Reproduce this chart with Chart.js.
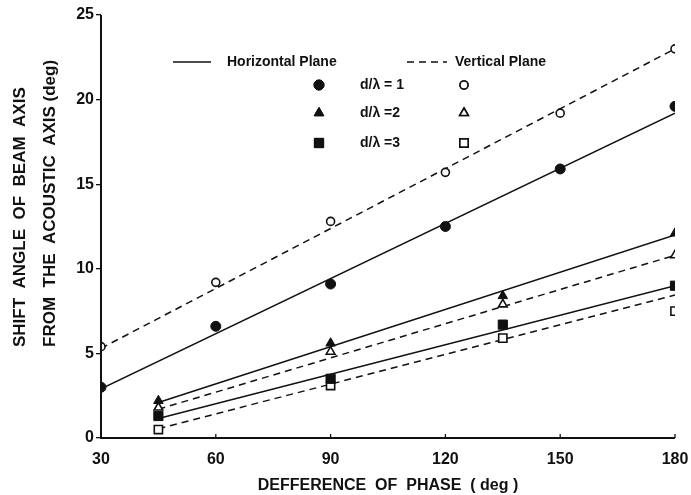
<!DOCTYPE html>
<html>
<head>
<meta charset="utf-8">
<script src="https://cdn.jsdelivr.net/npm/chart.js@4/dist/chart.umd.min.js"></script>
<style>
html,body{margin:0;padding:0;background:#fff;}
#wrap{width:691px;height:495px;position:relative;}
</style>
</head>
<body>
<div id="wrap"><canvas id="c" width="691" height="495"></canvas></div>
<script>
// ---- data ----
const phaseAll = [30, 60, 90, 120, 150, 180];
const phaseSub = [45, 90, 135, 180];
const horiz1 = [3.0, 6.6, 9.1, 12.5, 15.9, 19.6];
const vert1  = [5.4, 9.2, 12.8, 15.7, 19.2, 23.0];
const horiz2 = [2.2, 5.6, 8.4, 12.1];
const vert2  = [1.8, 5.1, 7.9, 10.8];
const horiz3 = [1.3, 3.5, 6.7, 9.0];
const vert3  = [0.5, 3.1, 5.9, 7.5];
// fitted straight lines (end points)
const fitX1 = [30, 180];
const fitX2 = [45, 180];
const horiz1Fit = [2.9, 19.2];
const vert1Fit  = [5.3, 23.0];
const horiz2Fit = [2.1, 12.0];
const vert2Fit  = [1.7, 10.8];
const horiz3Fit = [1.15, 9.0];
const vert3Fit  = [0.55, 8.45];
const xTicks = [30, 60, 90, 120, 150, 180];
const yTicks = [0, 5, 10, 15, 20, 25];
const yTitle = ['SHIFT  ANGLE  OF  BEAM  AXIS', 'FROM  THE  ACOUSTIC  AXIS (deg)'];
const xTitle = 'DEFFERENCE  OF  PHASE  ( deg )';

const pts = (xs, ys) => xs.map((x, i) => ({x: x, y: ys[i]}));
const INK = '#111';

function markerSet(label, xs, ys, style, filled, radius) {
  return {
    label: label, data: pts(xs, ys), showLine: false,
    pointStyle: style, pointRadius: radius, pointHoverRadius: radius,
    pointBackgroundColor: filled ? INK : '#fff',
    pointBorderColor: INK, pointBorderWidth: filled ? 1 : 1.6
  };
}
function lineSet(label, xs, ys, dashed) {
  return {
    label: label, data: pts(xs, ys), showLine: true, pointRadius: 0,
    borderColor: INK, borderWidth: 1.5, borderDash: dashed ? [7, 5] : [],
    fill: false, order: 2
  };
}

const datasets = [
  lineSet('H1 fit', fitX1, horiz1Fit, false),
  lineSet('V1 fit', fitX1, vert1Fit, true),
  lineSet('H2 fit', fitX2, horiz2Fit, false),
  lineSet('V2 fit', fitX2, vert2Fit, true),
  lineSet('H3 fit', fitX2, horiz3Fit, false),
  lineSet('V3 fit', fitX2, vert3Fit, true),
  markerSet('Horizontal d/λ=1', phaseAll, horiz1, 'circle', true, 5),
  markerSet('Vertical d/λ=1', phaseAll, vert1, 'circle', false, 4),
  markerSet('Horizontal d/λ=2', phaseSub, horiz2, 'triangle', true, 5.5),
  markerSet('Vertical d/λ=2', phaseSub, vert2, 'triangle', false, 5),
  markerSet('Horizontal d/λ=3', phaseSub, horiz3, 'rect', true, 6.5),
  markerSet('Vertical d/λ=3', phaseSub, vert3, 'rect', false, 5.8)
];

const overlay = {
  id: 'overlay',
  afterDraw(chart) {
    const ctx = chart.ctx;
    const xs = chart.scales.x, ys = chart.scales.y;
    ctx.save();
    ctx.strokeStyle = INK; ctx.fillStyle = INK;
    // axes
    ctx.lineWidth = 2;
    ctx.beginPath();
    ctx.moveTo(xs.left, ys.top);
    ctx.lineTo(xs.left, ys.bottom);
    ctx.lineTo(xs.right, ys.bottom);
    ctx.stroke();
    // inward x ticks
    ctx.lineWidth = 1.3;
    xTicks.forEach(v => {
      const px = xs.getPixelForValue(v);
      ctx.beginPath(); ctx.moveTo(px, ys.bottom); ctx.lineTo(px, ys.bottom - 4); ctx.stroke();
    });
    // y axis title (two lines, left aligned)
    ctx.font = 'bold 17px "Liberation Sans", Arial, sans-serif';
    ctx.textAlign = 'left'; ctx.textBaseline = 'middle';
    [[20, yTitle[0]], [50, yTitle[1]]].forEach(([x, t]) => {
      ctx.save(); ctx.translate(x, 347); ctx.rotate(-Math.PI / 2);
      ctx.fillText(t, 0, 0); ctx.restore();
    });
    // legend
    ctx.font = 'bold 14px "Liberation Sans", Arial, sans-serif';
    ctx.lineWidth = 1.5;
    ctx.beginPath(); ctx.setLineDash([]); ctx.moveTo(173, 62); ctx.lineTo(211, 62); ctx.stroke();
    ctx.fillText('Horizontal Plane', 227, 62);
    ctx.beginPath(); ctx.setLineDash([7, 5]); ctx.moveTo(407, 62); ctx.lineTo(447, 62); ctx.stroke();
    ctx.setLineDash([]);
    ctx.fillText('Vertical Plane', 455, 62);
    const rows = [
      {y: 85, lab: 'd/λ = 1', st: 'circle', rf: 5, ro: 4},
      {y: 113, lab: 'd/λ =2', st: 'triangle', rf: 5.5, ro: 5},
      {y: 143, lab: 'd/λ =3', st: 'rect', rf: 6.5, ro: 5.8}
    ];
    rows.forEach(r => {
      ctx.fillStyle = INK; ctx.strokeStyle = INK; ctx.lineWidth = 1;
      Chart.helpers.drawPoint(ctx, {pointStyle: r.st, radius: r.rf, borderWidth: 1, rotation: 0}, 319, r.y);
      ctx.fill(); ctx.stroke();
      ctx.fillStyle = INK;
      ctx.fillText(r.lab, 360, r.y);
      ctx.fillStyle = '#fff'; ctx.lineWidth = 1.6;
      Chart.helpers.drawPoint(ctx, {pointStyle: r.st, radius: r.ro, borderWidth: 1.6, rotation: 0}, 464, r.y);
      ctx.fill(); ctx.stroke();
    });
    ctx.restore();
  }
};

new Chart(document.getElementById('c'), {
  type: 'scatter',
  data: {datasets: datasets},
  options: {
    responsive: false, animation: false,
    layout: {padding: {top: 15, right: 16, left: 0, bottom: 0}},
    plugins: {legend: {display: false}, tooltip: {enabled: false}},
    scales: {
      x: {
        type: 'linear', min: 30, max: 180,
        afterBuildTicks: s => { s.ticks = xTicks.map(v => ({value: v})); },
        afterFit: s => { s.height = 57; s.paddingLeft = 0; s.paddingRight = 0; },
        border: {display: false},
        grid: {display: false},
        ticks: {color: INK, padding: 4, font: {family: '"Liberation Sans", Arial, sans-serif', size: 16, weight: 'bold'}},
        title: {display: true, text: xTitle, color: INK, padding: {top: 10, bottom: 0},
                font: {family: '"Liberation Sans", Arial, sans-serif', size: 16, weight: 'bold'}}
      },
      y: {
        type: 'linear', min: 0, max: 25,
        afterBuildTicks: s => { s.ticks = yTicks.map(v => ({value: v})); },
        afterFit: s => { s.width = 101; s.paddingTop = 0; s.paddingBottom = 0; },
        border: {display: false},
        grid: {drawOnChartArea: false, drawTicks: true, tickLength: 5, color: INK, lineWidth: 1.3},
        ticks: {color: INK, padding: 2, font: {family: '"Liberation Sans", Arial, sans-serif', size: 16, weight: 'bold'}}
      }
    }
  },
  plugins: [overlay]
});
</script>
</body>
</html>
